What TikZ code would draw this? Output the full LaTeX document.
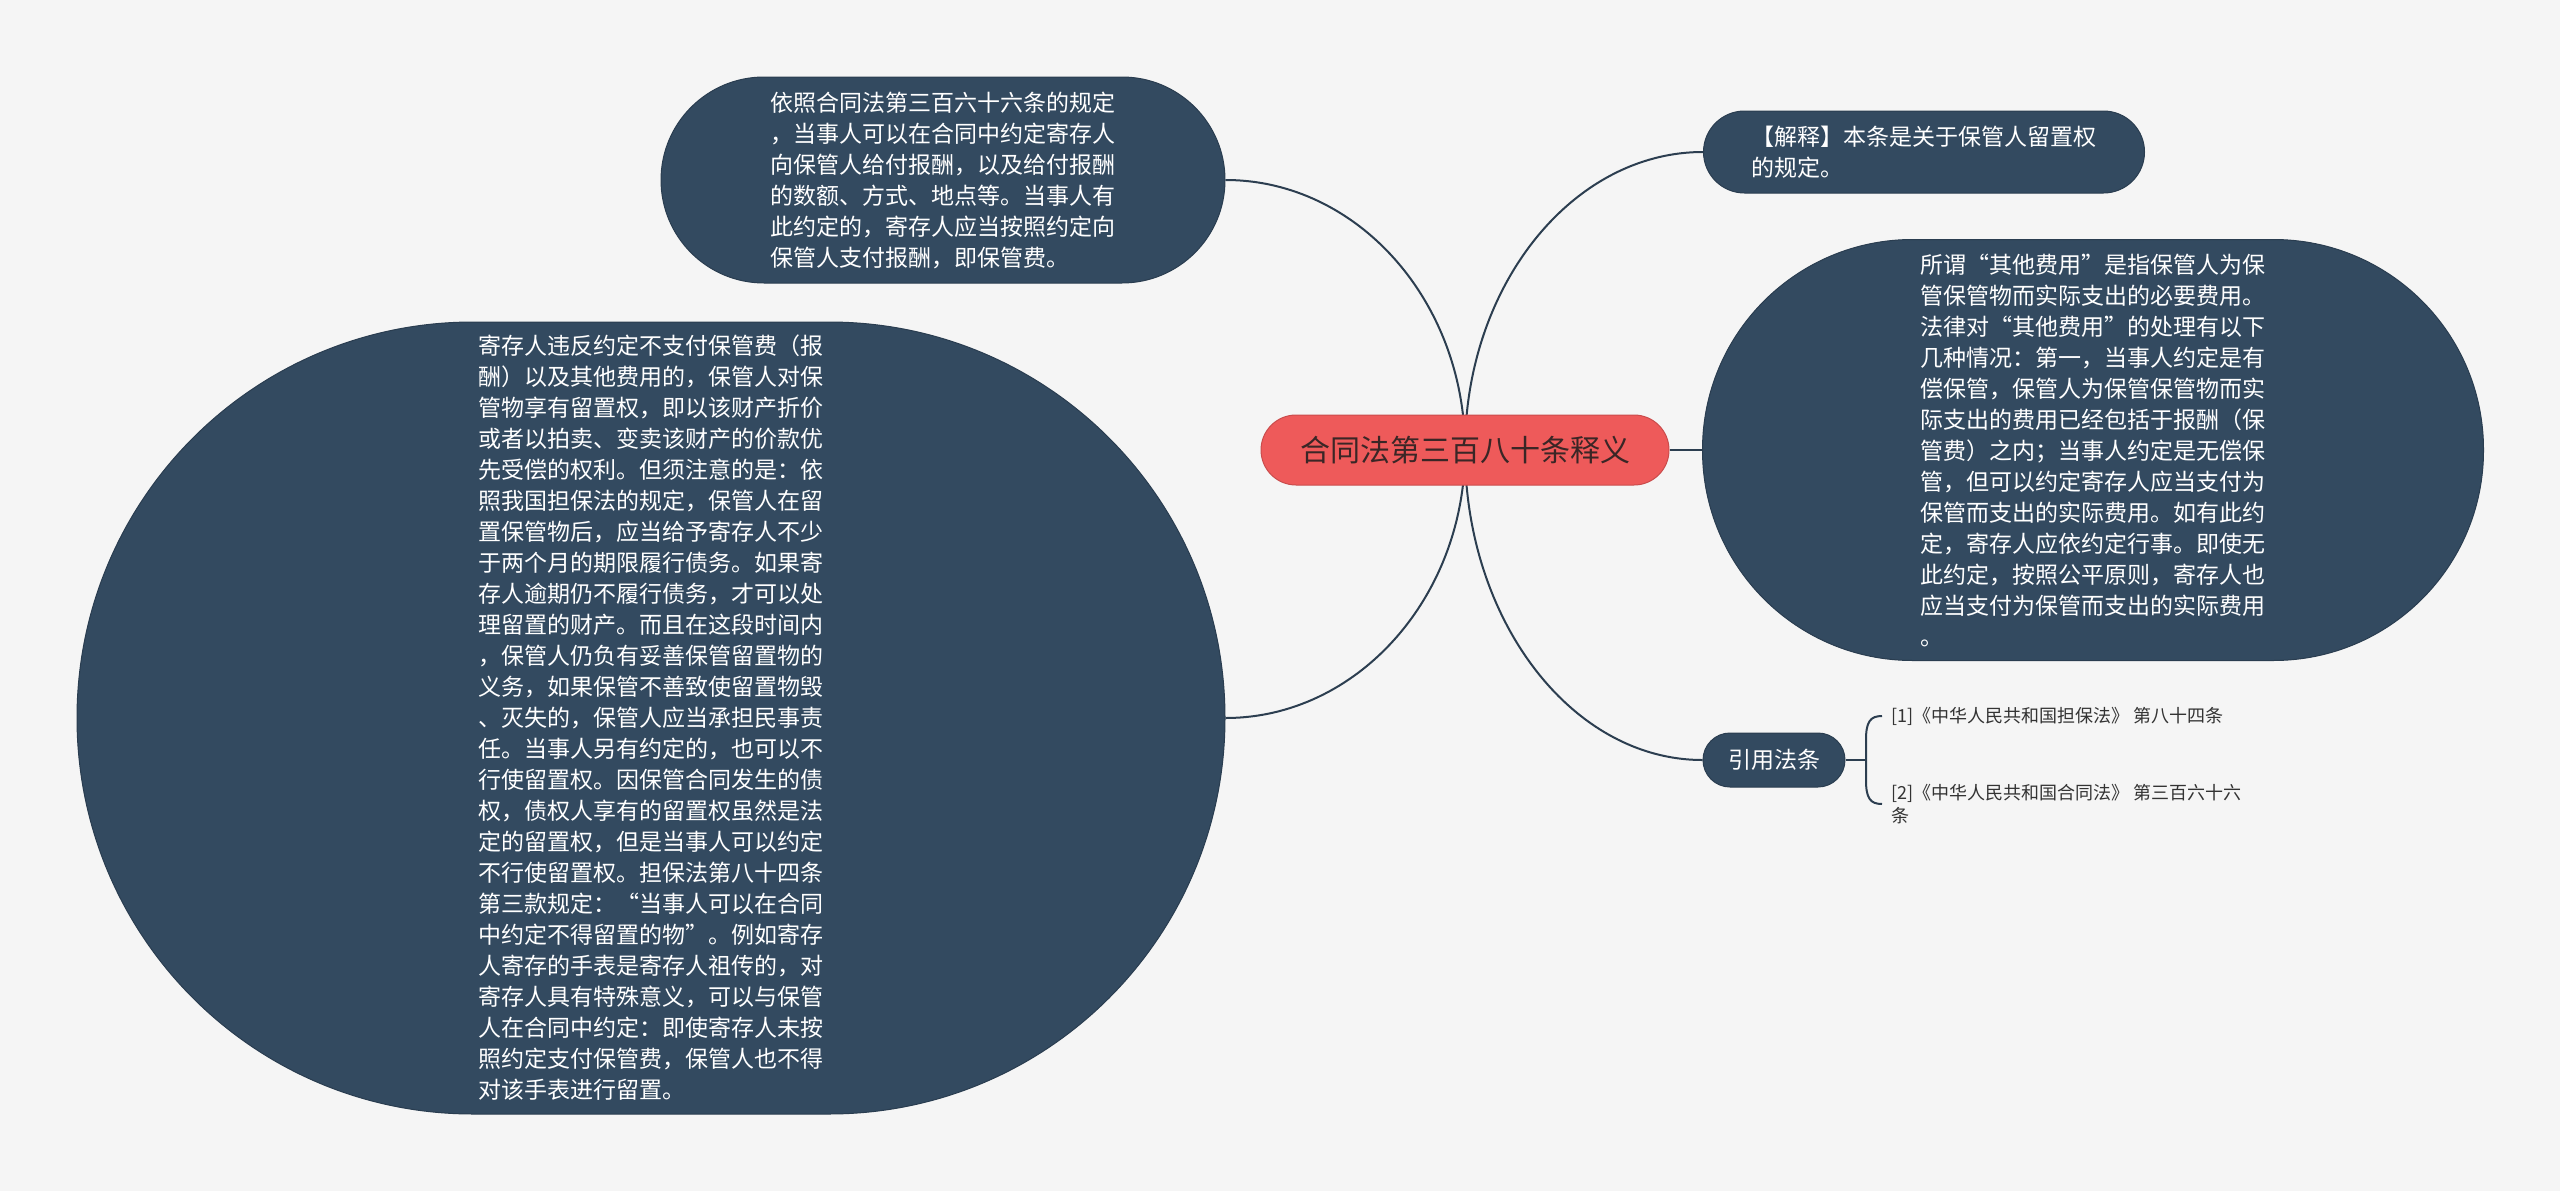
\documentclass[tikz,border=0pt]{standalone}
\usepackage{fontspec}
\setmainfont{Noto Sans CJK SC}
\definecolor{bgc}{HTML}{F5F5F5}
\definecolor{nodeblue}{HTML}{334A60}
\definecolor{nodeedge}{HTML}{2A3D50}
\definecolor{centerred}{HTML}{EE5A5A}
\definecolor{centertext}{HTML}{3A2626}
\definecolor{linec}{HTML}{2C3E50}
\definecolor{citetext}{HTML}{333333}
\pgfdeclarelayer{bg}
\pgfdeclarelayer{edges}
\pgfsetlayers{bg,edges,main}
\tikzset{
  topicbox/.style={fill=nodeblue, draw=nodeedge, line width=1pt, inner sep=0pt,
    text=white, align=left, font=\fontsize{23pt}{31pt}\selectfont},
  conn/.style={draw=linec, line width=2pt},
  citetxt/.style={text=citetext, align=left, inner sep=0pt, font=\fontsize{18pt}{23pt}\selectfont}
}
\begin{document}
\begin{tikzpicture}[x=1pt,y=-1pt]
\begin{pgfonlayer}{bg}
\fill[bgc] (0,0) rectangle (2560,1191);
\end{pgfonlayer}
\useasboundingbox (0,0) rectangle (2560,1191);

\node[topicbox, minimum width=408pt, minimum height=70pt, rounded corners=35pt,
  fill=centerred, draw=centerred!85!black, text=centertext,
  font=\fontsize{30pt}{36pt}\selectfont] (c) at (1465,450) {合同法第三百八十条释义};

\node[topicbox, minimum width=564pt, minimum height=206pt, rounded corners=103pt] (tl) at (943,180)
{依照合同法第三百六十六条的规定\\，当事人可以在合同中约定寄存人\\向保管人给付报酬，以及给付报酬\\的数额、方式、地点等。当事人有\\此约定的，寄存人应当按照约定向\\保管人支付报酬，即保管费。};

\node[topicbox, minimum width=1148pt, minimum height=792pt, rounded corners=396pt] (bl) at (651,718)
{寄存人违反约定不支付保管费（报\\酬）以及其他费用的，保管人对保\\管物享有留置权，即以该财产折价\\或者以拍卖、变卖该财产的价款优\\先受偿的权利。但须注意的是：依\\照我国担保法的规定，保管人在留\\置保管物后，应当给予寄存人不少\\于两个月的期限履行债务。如果寄\\存人逾期仍不履行债务，才可以处\\理留置的财产。而且在这段时间内\\，保管人仍负有妥善保管留置物的\\义务，如果保管不善致使留置物毁\\、灭失的，保管人应当承担民事责\\任。当事人另有约定的，也可以不\\行使留置权。因保管合同发生的债\\权，债权人享有的留置权虽然是法\\定的留置权，但是当事人可以约定\\不行使留置权。担保法第八十四条\\第三款规定：“当事人可以在合同\\中约定不得留置的物”。例如寄存\\人寄存的手表是寄存人祖传的，对\\寄存人具有特殊意义，可以与保管\\人在合同中约定：即使寄存人未按\\照约定支付保管费，保管人也不得\\对该手表进行留置。};

\node[topicbox, minimum width=441pt, minimum height=82pt, rounded corners=41pt] (jie) at (1924,152)
{【解释】本条是关于保管人留置权\\的规定。};

\node[topicbox, minimum width=781pt, minimum height=421pt, rounded corners=210pt] (rb) at (2093,450)
{所谓“其他费用”是指保管人为保\\管保管物而实际支出的必要费用。\\法律对“其他费用”的处理有以下\\几种情况：第一，当事人约定是有\\偿保管，保管人为保管保管物而实\\际支出的费用已经包括于报酬（保\\管费）之内；当事人约定是无偿保\\管，但可以约定寄存人应当支付为\\保管而支出的实际费用。如有此约\\定，寄存人应依约定行事。即使无\\此约定，按照公平原则，寄存人也\\应当支付为保管而支出的实际费用\\。};

\node[topicbox, minimum width=142pt, minimum height=54pt, rounded corners=27pt] (cite) at (1774,760) {引用法条};

\node[citetxt, anchor=west] (c1) at (1891,716) {[1]《中华人民共和国担保法》 第八十四条};
\node[citetxt, anchor=north west] (c2) at (1891,784) {[2]《中华人民共和国合同法》 第三百六十六\\条};

\coordinate (bj) at (1866,760);
\coordinate (bt) at (1882,716);
\coordinate (bb) at (1882,804);

\begin{pgfonlayer}{edges}
\draw[conn] (c.center) .. controls +(0,-149) and +(132,0) .. (tl.east);
\draw[conn] (c.center) .. controls +(0,-164) and +(-131,0) .. (jie.west);
\draw[conn] (c.center) .. controls +(0,147) and +(132,0) .. (bl.east);
\draw[conn] (c.center) .. controls +(0,170) and +(-131,0) .. (cite.west);
\draw[conn] (c.east) -- (rb.west);
\draw[conn] (cite.east) -- (bj);
\draw[conn] (bt) .. controls +(-12,0) and +(0,-18) .. (1866,740) -- (1866,780) .. controls +(0,18) and +(-12,0) .. (bb);
\end{pgfonlayer}
\end{tikzpicture}
\end{document}
